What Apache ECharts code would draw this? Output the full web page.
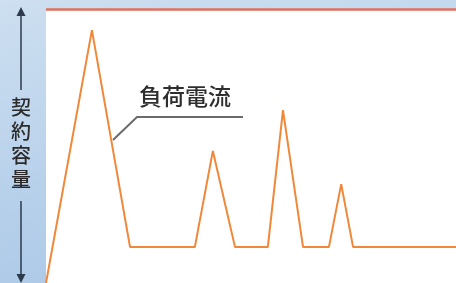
<!DOCTYPE html>
<html>
<head>
<meta charset="utf-8">
<script src="https://cdn.jsdelivr.net/npm/echarts@6/dist/echarts.min.js"></script>
<style>
    html, body { margin: 0; padding: 0; }
    body { background: linear-gradient(170deg, #cddff0 0%, #b5cfea 60%, #a9c6e5 100%); }
    #chart_container { width: 456px; height: 283px; }
</style>
</head>
<body>
<div id="chart_container"></div>
<script>
"use strict";
// 時間 (相対値) と負荷電流 (契約容量 = 100 とした割合)
var timeData = [0, 11.2, 20.5, 36.3, 40.7, 46.1, 54.1, 57.8, 62.7, 69.0, 72.0, 74.9, 100];
var loadData = [0, 92.3, 13.1, 13.1, 48.2, 13.1, 13.1, 63.1, 13.1, 13.1, 36.1, 13.1, 13.1];
var contractValue = 100;
var yLabel = '契約容量';
var seriesName = '負荷電流';

function drawChart() {
    var myChart = echarts.init(document.getElementById('chart_container'));
    var points = [];
    for (var i = 0, n = timeData.length; i < n; i++) {
        points.push([timeData[i], loadData[i]]);
    }

    var font = '"Noto Sans CJK JP", sans-serif';
    var option = {
        animation: false,
        grid: {left: 46, right: 0, top: 9, bottom: 0, show: true,
            backgroundColor: '#ffffff', borderWidth: 0},
        xAxis: {type: 'value', min: 0, max: 100, show: false},
        yAxis: {type: 'value', min: 0, max: 100, show: false},
        series: [{
            name: seriesName,
            type: 'line',
            data: points,
            symbol: 'none',
            lineStyle: {color: '#f0883a', width: 2},
            markLine: {
                silent: true,
                symbol: 'none',
                label: {show: false},
                lineStyle: {color: '#e0705e', width: 2.5, type: 'solid'},
                data: [{yAxis: contractValue}]
            }
        }],
        graphic: [
            // 縦軸の矢印
            {type: 'line', shape: {x1: 21, y1: 12, x2: 21, y2: 90},
                style: {stroke: '#2c3a4c', lineWidth: 1.5}},
            {type: 'polygon', shape: {points: [[21, 7], [16.5, 16], [25.5, 16]]},
                style: {fill: '#2c3a4c'}},
            {type: 'line', shape: {x1: 21, y1: 201, x2: 21, y2: 278},
                style: {stroke: '#2c3a4c', lineWidth: 1.5}},
            {type: 'polygon', shape: {points: [[21, 283], [16.5, 274], [25.5, 274]]},
                style: {fill: '#2c3a4c'}},
            {type: 'text', left: 11, top: 95,
                style: {text: yLabel.split('').join('\n'), font: '500 20px ' + font,
                    fill: '#2b2b2b', lineHeight: 24}},
            // 凡例の引出線
            {type: 'polyline', shape: {points: [[113, 140], [137, 117], [243, 117]]},
                style: {stroke: '#6b6b6b', lineWidth: 2, fill: null}},
            {type: 'text', left: 139, top: 85,
                style: {text: seriesName, font: '500 23px ' + font, fill: '#2e2e2e'}}
        ]
    };
    myChart.setOption(option);
}

drawChart();
</script>
</body>
</html>
